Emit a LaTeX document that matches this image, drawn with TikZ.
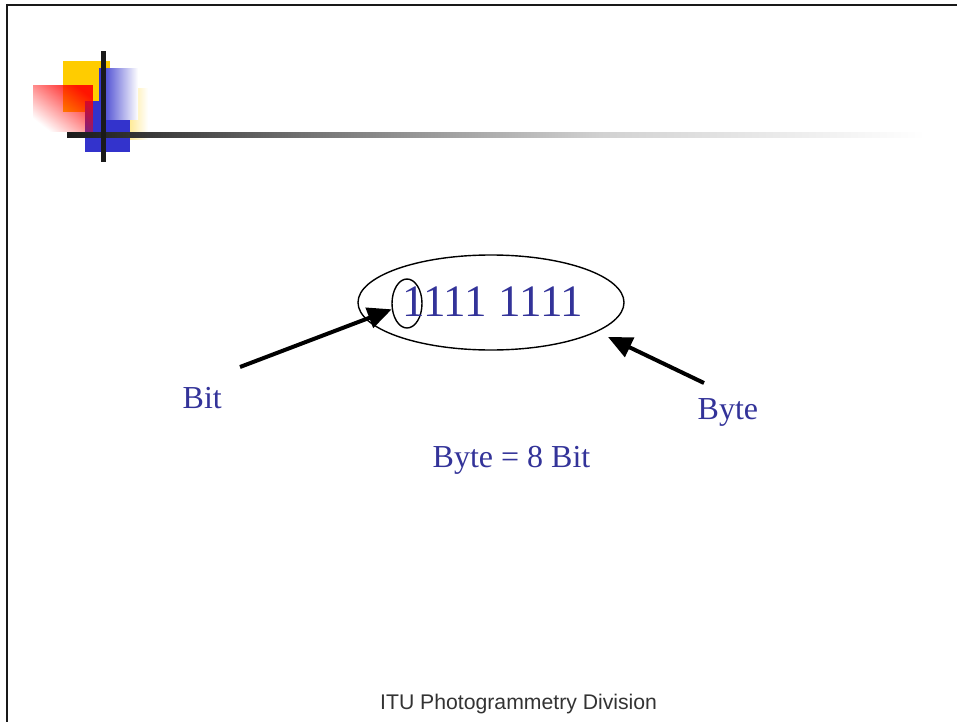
\documentclass[tikz,border=0pt]{standalone}
\usepackage{fontspec}
\setmainfont{Liberation Serif}
\newfontfamily\footfont{Liberation Sans}
\usetikzlibrary{arrows.meta,shapes.geometric,fadings}
\definecolor{txtblue}{HTML}{333399}
\definecolor{logoblue}{HTML}{3333CC}
\definecolor{logoyellow}{HTML}{FFCC00}
\definecolor{barblack}{HTML}{1A1A1A}
\tikzfading[name=redfade, top color=transparent!0, middle color=transparent!65, bottom color=transparent!100, shading angle=-45]
\begin{document}
\begin{tikzpicture}[x=1pt,y=-1pt,
  lbl/.style={anchor=base west, inner sep=0pt, text=txtblue, font=\fontsize{32}{38}\selectfont},
  arr/.style={line width=4pt, -{Triangle[length=24pt,width=21pt]}},
  ell/.style={ellipse, draw, line width=1.4pt, inner sep=0pt}]
\useasboundingbox[fill=white] (0,0) rectangle (957,722);
% frame
\draw[line width=2.6pt, black!90] (6,5) -- (957,5);
\draw[line width=2pt, black!90] (7,4) -- (7,722);
% logo
\fill[logoyellow] (63,61) rectangle (110,112);
\fill[logoblue] (85,101) rectangle (130,152);
\fill[red, path fading=redfade, fit fading=true, opacity=0.9] (33,85) rectangle (93,132);
\shade[left color=logoyellow!40, right color=white] (130,89) rectangle (148,140);
\shade[left color=logoblue, right color=white] (99,69) rectangle (138,120);
\shade[left color=barblack, right color=black!56] (67,133) rectangle (300,138);
\shade[left color=black!56, right color=black!18] (300,133) rectangle (600,138);
\shade[left color=black!18, right color=white] (600,133) rectangle (925,138);
\fill[barblack] (101,51) rectangle (106,162);
% main content
\node[ell, minimum width=266pt, minimum height=95pt] (byteell) at (491,302.5) {};
\node[ell, minimum width=30pt, minimum height=49pt] (bitell) at (407,303.5) {};
\node[anchor=base west, inner sep=0pt, text=txtblue, font=\fontsize{45}{52}\selectfont] (bits) at (402,316) {1111 1111};
\coordinate (bittail) at (240,367);
\coordinate (bytetail) at (704,383);
\coordinate (bytetip) at (608,337);
\draw[arr] (bittail) -- (bitell);
\draw[arr] (bytetail) -- (bytetip);
\node[lbl] (bitlbl) at (182.5,408) {Bit};
\node[lbl] (bytelbl) at (697.5,419) {Byte};
\node[lbl] (eqlbl) at (432.5,467) {Byte = 8 Bit};
\node[anchor=base west, inner sep=0pt, text=black!80, font=\footfont\fontsize{21.2}{25}\selectfont] (footer) at (380,709) {ITU Photogrammetry Division};
\end{tikzpicture}
\end{document}
